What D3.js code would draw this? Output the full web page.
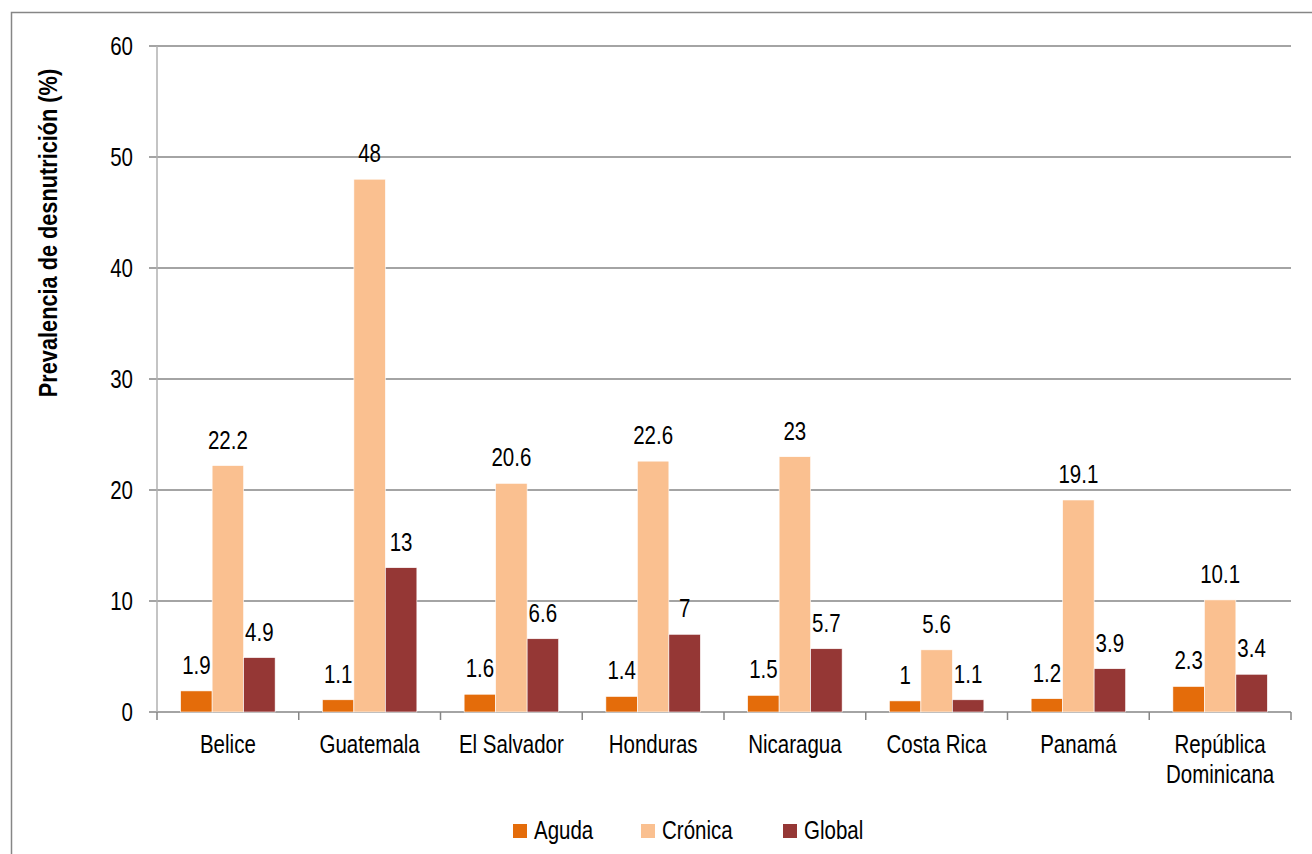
<!DOCTYPE html>
<html>
<head>
<meta charset="utf-8">
<script src="https://cdn.jsdelivr.net/npm/d3@7"></script>
<style>
  body { margin: 0; background: #fff; }
  text { font-family: "Liberation Sans", Arial, sans-serif; fill: #000; }
</style>
</head>
<body>
<svg id="chart" width="1312" height="854"></svg>
<script>
// datos
var paises = ["Belice", "Guatemala", "El Salvador", "Honduras", "Nicaragua", "Costa Rica", "Panamá", "República\nDominicana"];
var series = ["Aguda", "Crónica", "Global"];
var aguda = [1.9, 1.1, 1.6, 1.4, 1.5, 1, 1.2, 2.3];
var cronica = [22.2, 48, 20.6, 22.6, 23, 5.6, 19.1, 10.1];
var global = [4.9, 13, 6.6, 7, 5.7, 1.1, 3.9, 3.4];
var yTicks = [0, 10, 20, 30, 40, 50, 60];
var colores = ["#E46C0A", "#FAC090", "#953735"];

var valores = [aguda, cronica, global];
var data = paises.map(function (p, i) {
  return { pais: p, vals: series.map(function (s, k) { return { serie: s, v: valores[k][i] }; }) };
});

// no hay Arial Narrow: se estrecha el texto a mano
var ANCHO = 0.82;
function angosto(sel) {
  sel.attr("transform", function () {
    var t = d3.select(this);
    var x = +t.attr("x"), y = +t.attr("y");
    return "translate(" + x + "," + y + ") scale(" + ANCHO + ",1) translate(" + (-x) + "," + (-y) + ")";
  });
}

var svg = d3.select("#chart");

// marco
svg.append("rect")
  .attr("x", 11.5).attr("y", 12.5).attr("width", 1400).attr("height", 900)
  .attr("fill", "none").attr("stroke", "#868686").attr("stroke-width", 1.5);

var mIzq = 157, mDer = 1291, mSup = 46, mInf = 712;

var y = d3.scaleLinear().domain([0, 60]).range([mInf, mSup]);
var x0 = d3.scaleBand().domain(paises).range([mIzq, mDer]).paddingInner(1/3).paddingOuter(1/6);
var x1 = d3.scaleBand().domain(series).range([0, x0.bandwidth()]);

// grilla
svg.append("g").selectAll("line")
  .data(yTicks)
  .enter().append("line")
    .attr("x1", mIzq - 8).attr("x2", mDer)
    .attr("y1", function (d) { return y(d); })
    .attr("y2", function (d) { return y(d); })
    .attr("stroke", "#868686").attr("stroke-width", 1.5);

svg.append("line")
  .attr("x1", mIzq).attr("x2", mIzq).attr("y1", mSup).attr("y2", mInf)
  .attr("stroke", "#b0b0b0").attr("stroke-width", 1.5);

// ticks eje x
var paso = x0.step();
svg.append("g").selectAll("line")
  .data(d3.range(paises.length + 1))
  .enter().append("line")
    .attr("x1", function (d) { return mIzq + d * paso; })
    .attr("x2", function (d) { return mIzq + d * paso; })
    .attr("y1", mInf).attr("y2", mInf + 8)
    .attr("stroke", "#868686").attr("stroke-width", 1.5);

// etiquetas eje y
svg.append("g").selectAll("text")
  .data(yTicks)
  .enter().append("text")
    .attr("x", 133)
    .attr("y", function (d) { return y(d) + 9; })
    .attr("text-anchor", "end")
    .style("font-size", "25px")
    .text(function (d) { return d; })
    .call(angosto);

svg.append("text")
  .attr("transform", "translate(57,233) rotate(-90) scale(" + ANCHO + ",1)")
  .attr("text-anchor", "middle")
  .style("font-size", "26.5px")
  .style("font-weight", "bold")
  .text("Prevalencia de desnutrición (%)");

// barras
var grupos = svg.append("g").selectAll("g")
  .data(data)
  .enter().append("g")
    .attr("transform", function (d) { return "translate(" + x0(d.pais) + ",0)"; });

grupos.selectAll("rect")
  .data(function (d) { return d.vals; })
  .enter().append("rect")
    .attr("x", function (d) { return x1(d.serie); })
    .attr("width", x1.bandwidth())
    .attr("y", function (d) { return y(d.v); })
    .attr("height", function (d) { return y(0) - y(d.v); })
    .attr("fill", function (d, i) { return colores[i]; })
    .attr("stroke", "#fff").attr("stroke-width", 0.6);

grupos.selectAll("text.val")
  .data(function (d) { return d.vals; })
  .enter().append("text")
    .attr("class", "val")
    .attr("x", function (d) { return x1(d.serie) + x1.bandwidth() / 2; })
    .attr("y", function (d) { return y(d.v) - 17; })
    .attr("text-anchor", "middle")
    .style("font-size", "25px")
    .text(function (d) { return d.v; })
    .call(angosto);

// etiquetas eje x
svg.append("g").selectAll("text")
  .data(paises)
  .enter().append("text")
    .attr("x", function (d) { return x0(d) + x0.bandwidth() / 2; })
    .attr("y", 753)
    .attr("text-anchor", "middle")
    .style("font-size", "25px")
    .each(function (d) {
      var t = d3.select(this);
      d.split("\n").forEach(function (linea, i) {
        t.append("tspan")
          .attr("x", x0(d) + x0.bandwidth() / 2)
          .attr("dy", i == 0 ? 0 : 30)
          .text(linea);
      });
    })
    .call(angosto);

// leyenda
var leyX = [513, 641, 783];
var leyenda = svg.append("g").selectAll("g")
  .data(series)
  .enter().append("g")
    .attr("transform", function (d, i) { return "translate(" + leyX[i] + ",824)"; });
leyenda.append("rect")
  .attr("width", 14).attr("height", 14)
  .attr("fill", function (d, i) { return colores[i]; });
leyenda.append("text")
  .attr("x", 21).attr("y", 15)
  .style("font-size", "25px")
  .text(function (d) { return d; })
  .call(angosto);
</script>
</body>
</html>
